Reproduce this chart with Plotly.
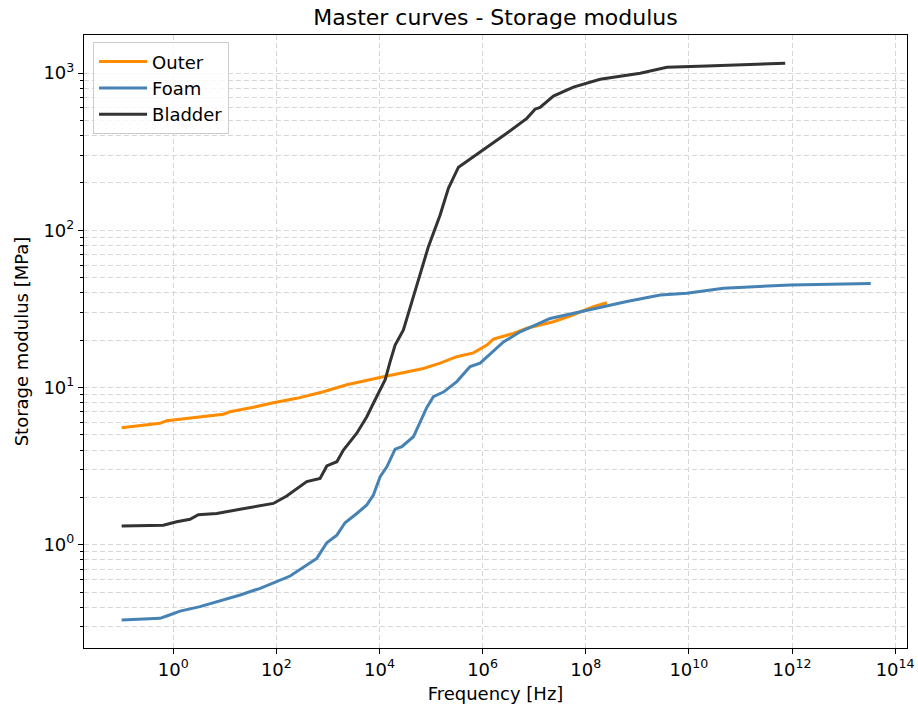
import plotly.graph_objects as go

# ---------------- data ----------------
outer_freq = [1.0e-1, 0.555, 0.748, 3.31, 9.38, 12.6, 35.8, 87.5, 249, 817, 2320,
              1.19e4, 7.11e4, 1.50e5, 3.16e5, 6.64e5, 1.21e6, 1.62e6, 3.96e6,
              7.21e6, 2.36e7, 4.98e7, 1.41e8, 2.56e8]
outer_mod = [5.55, 5.92, 6.15, 6.46, 6.76, 7.01, 7.48, 8.00, 8.53, 9.40, 10.4,
             11.7, 13.2, 14.3, 15.7, 16.6, 18.6, 20.3, 22.1,
             23.8, 26.2, 28.5, 32.7, 34.6]

foam_freq = [1.0e-1, 0.555, 0.748, 1.36, 3.31, 6.98, 19.9, 48.6, 119, 185, 608,
             951, 1490, 2150, 3630, 5680, 7620, 1.03e4, 1.39e4, 2.01e4, 2.71e4,
             4.55e4, 8.28e4, 1.11e5, 1.74e5, 3.16e5, 5.73e5, 8.95e5, 2.54e6,
             5.35e6, 2.04e7, 7.80e7, 1.91e8, 6.27e8, 2.79e9, 9.14e9, 4.69e10,
             9.23e11, 3.37e13]
foam_mod = [0.332, 0.340, 0.352, 0.378, 0.404, 0.434, 0.479, 0.528, 0.596, 0.632, 0.818,
            1.03, 1.15, 1.38, 1.58, 1.79, 2.07, 2.71, 3.13, 4.05, 4.20,
            4.86, 7.46, 8.73, 9.35, 10.9, 13.6, 14.3, 19.5,
            22.6, 27.5, 30.3, 32.2, 35.2, 38.7, 39.7, 42.8,
            44.9, 45.9]

bladder_freq = [1.0e-1, 0.643, 1.17, 2.12, 3.07, 6.98, 19.8, 41.7, 87.5, 159, 389,
                705, 951, 1490, 2000, 3630, 5680, 7620, 1.03e4, 1.29e4, 1.61e4,
                2.01e4, 2.91e4, 3.64e4, 4.55e4, 6.62e4, 8.89e4, 1.50e5, 2.17e5,
                3.40e5, 1.04e6, 2.94e6, 7.21e6, 1.04e7, 1.30e7, 2.36e7, 5.77e7,
                1.90e8, 1.14e9, 3.74e9, 2.23e10, 7.38e11]
bladder_mod = [1.315, 1.33, 1.40, 1.45, 1.55, 1.58, 1.68, 1.75, 1.83, 2.04, 2.52,
               2.64, 3.17, 3.37, 4.00, 5.12, 6.52, 7.94, 9.64, 11.2, 14.6,
               18.6, 23.2, 29.6, 37.8, 58.6, 78.7, 125, 185,
               252, 324, 414, 515, 589, 605, 714, 813,
               914, 998, 1089, 1109, 1153]

x_tick_vals = [1e0, 1e2, 1e4, 1e6, 1e8, 1e10, 1e12, 1e14]
x_tick_text = ["10<sup>0</sup>", "10<sup>2</sup>", "10<sup>4</sup>", "10<sup>6</sup>",
               "10<sup>8</sup>", "10<sup>10</sup>", "10<sup>12</sup>", "10<sup>14</sup>"]
y_tick_vals = [1e0, 1e1, 1e2, 1e3]
y_tick_text = ["10<sup>0</sup>", "10<sup>1</sup>", "10<sup>2</sup>", "10<sup>3</sup>"]
y_minor_vals = [k * 10.0 ** e for e in range(-1, 4) for k in range(2, 10)]

FONT = "DejaVu Sans"
GRID = "#d6d6d6"

fig = go.Figure()
series = [
    ("Outer", outer_freq, outer_mod, "#ff8c00"),
    ("Foam", foam_freq, foam_mod, "#4682b4"),
    ("Bladder", bladder_freq, bladder_mod, "#333333"),
]
for name, xs, ys, col in series:
    fig.add_trace(go.Scatter(x=xs, y=ys, mode="lines", name=name,
                             line=dict(color=col, width=3)))

fig.update_layout(
    width=918, height=708,
    margin=dict(l=84, r=11, t=35, b=60, autoexpand=False),
    paper_bgcolor="white", plot_bgcolor="white",
    font=dict(family=FONT, size=18, color="black"),
    title=dict(text="Master curves - Storage modulus", x=0.5, xanchor="center", xref="paper",
               y=1 - 17 / 708, yanchor="middle", yref="container",
               font=dict(family=FONT, size=22, color="black")),
    legend=dict(x=0.011, y=0.988, xanchor="left", yanchor="top",
                bgcolor="rgba(255,255,255,0.8)", bordercolor="#cccccc", borderwidth=1,
                font=dict(family=FONT, size=18), tracegroupgap=0, itemwidth=48),
    showlegend=True,
)

fig.update_xaxes(
    type="log", range=[-1.73, 14.23], automargin=False,
    tickmode="array", tickvals=x_tick_vals, ticktext=x_tick_text,
    ticks="outside", ticklen=5, tickwidth=1, tickcolor="black",
    showline=True, linecolor="black", linewidth=1.2, mirror=True,
    showgrid=True, gridcolor=GRID, griddash="5px,3px", gridwidth=1,
    zeroline=False,
    tickfont=dict(family=FONT, size=18),
    title=dict(text="Frequency [Hz]", font=dict(family=FONT, size=18), standoff=8),
)
fig.update_yaxes(
    type="log", range=[-0.657, 3.242], automargin=False,
    tickmode="array", tickvals=y_tick_vals, ticktext=y_tick_text,
    ticks="outside", ticklen=5, tickwidth=1, tickcolor="black",
    showline=True, linecolor="black", linewidth=1.2, mirror=True,
    showgrid=True, gridcolor=GRID, griddash="5px,3px", gridwidth=1,
    zeroline=False,
    minor=dict(tickmode="array", tickvals=y_minor_vals, ticks="outside", ticklen=3,
               tickcolor="black", showgrid=True, gridcolor=GRID, griddash="5px,3px"),
    tickfont=dict(family=FONT, size=18),
    title=dict(text="Storage modulus [MPa]", font=dict(family=FONT, size=18), standoff=10),
)

fig.write_html("out.html", config={"displayModeBar": False},
               post_script="document.body.style.margin='0';")
